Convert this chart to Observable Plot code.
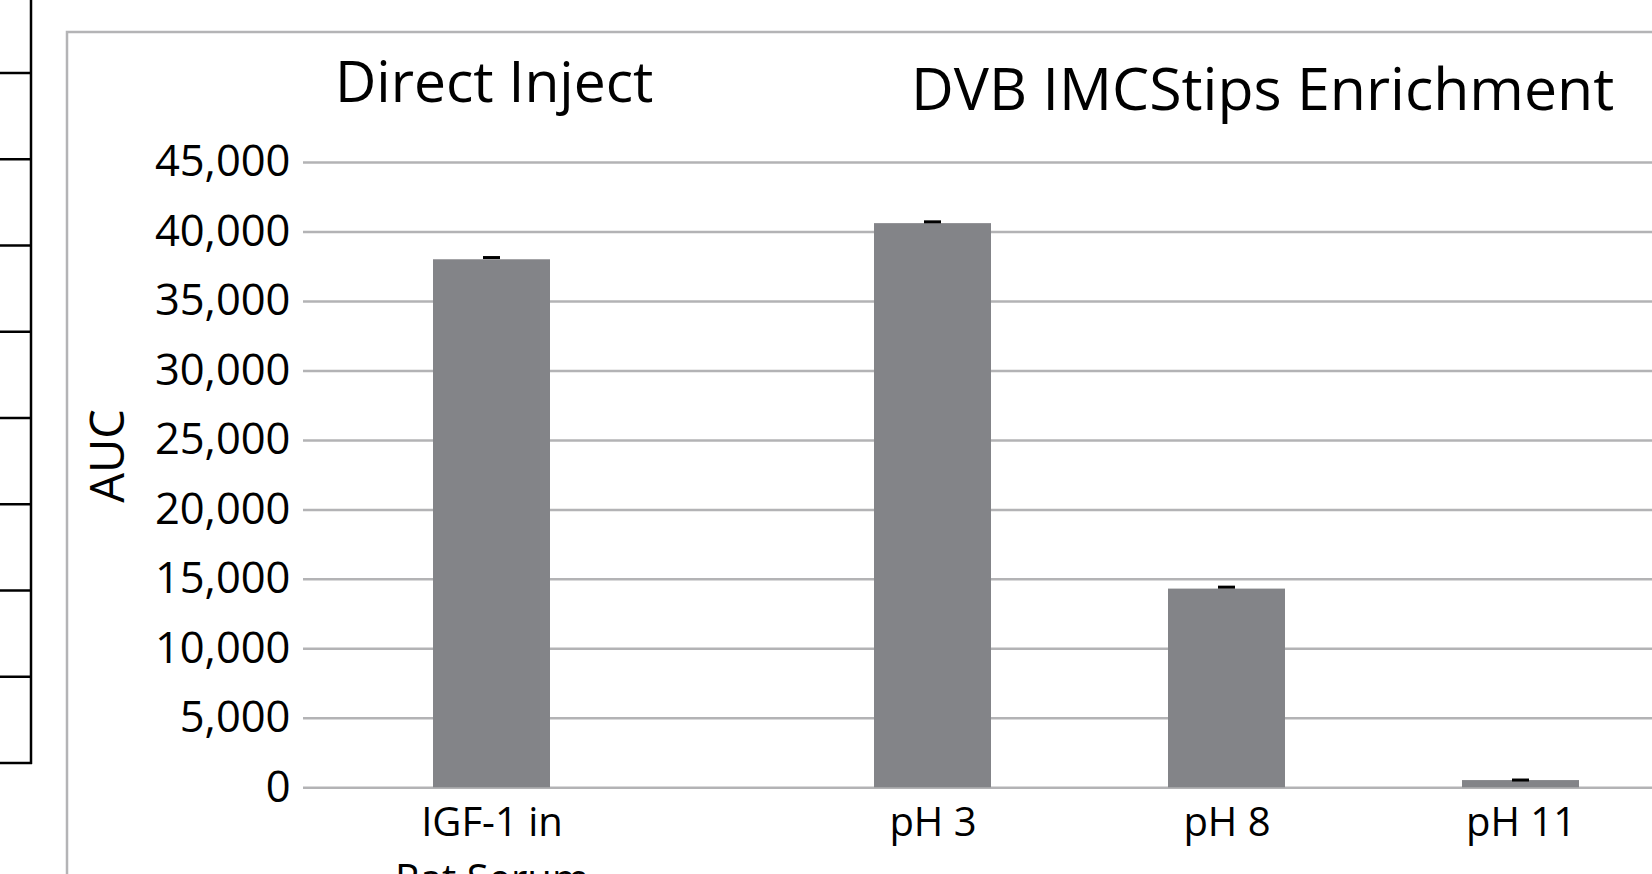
<!DOCTYPE html>
<html>
<head>
<meta charset="utf-8">
<script src="https://cdn.jsdelivr.net/npm/d3@7"></script>
<script src="https://cdn.jsdelivr.net/npm/@observablehq/plot@0.6"></script>
<style>
  html, body { margin: 0; padding: 0; background: #fff; }
  #chart { width: 1652px; height: 874px; overflow: hidden; }
</style>
</head>
<body>
<div id="chart"></div>
<script>
// ---- data ----
const categories = ["IGF-1 in\nRat Serum", "pH 3", "pH 8", "pH 11"];
const values = [38000, 40600, 14300, 520];
const errors = [160, 130, 140, 40];
const groupTitles = ["Direct Inject", "DVB IMCStips Enrichment"];
const yTicks = [0, 5000, 10000, 15000, 20000, 25000, 30000, 35000, 40000, 45000];
const yLabel = "AUC";
// slot order of the category axis (empty slots are the gaps between groups)
const slots = ["IGF-1 in\nRat Serum", "gap a", "gap b", "pH 3", "gap c", "pH 8", "gap d", "pH 11"];

const data = categories.map((c, i) => ({category: c, value: values[i], err: errors[i]}));

const W = 1652, H = 874;
const font = "'Open Sans', 'DejaVu Sans', sans-serif";

const plot = Plot.plot({
  width: W,
  height: H,
  marginLeft: 303,
  marginRight: 0,
  marginTop: 162,
  marginBottom: 86.7,
  style: {fontFamily: font, color: "#000", background: "transparent", overflow: "visible"},
  x: {type: "band", domain: slots, range: [416.8, 1595.7], paddingInner: 0.206, paddingOuter: 0.103},
  y: {domain: [0, 45000]},
  marks: [
    Plot.gridY(yTicks, {stroke: "#b3b3b5", strokeOpacity: 1, strokeWidth: 2.5}),
    Plot.barY(data, {x: "category", y: "value", fill: "#838488"}),
    Plot.tickY(data, {x: "category", y: d => d.value + d.err, stroke: "#000", strokeWidth: 3, insetLeft: 50, insetRight: 50}),
    Plot.axisY(yTicks, {tickSize: 0, tickPadding: 13, fontSize: 43.5, tickFormat: d3.format(","), label: null}),
    Plot.axisX(categories, {tickSize: 0, tickPadding: 8, fontSize: 40, lineHeight: 1.415, label: null})
  ]
});

document.getElementById("chart").appendChild(plot);

// ---- decorations and titles ----
const svg = d3.select(plot);
const deco = svg.insert("g", ":first-child");
// outer chart-area border (cropped at right/bottom)
deco.append("rect").attr("x", 67).attr("y", 32).attr("width", 3000).attr("height", 3000)
  .attr("fill", "none").attr("stroke", "#b4b4b6").attr("stroke-width", 2.5);
// neighbouring element at the left edge
deco.append("line").attr("x1", 31).attr("x2", 31).attr("y1", 0).attr("y2", 764)
  .attr("stroke", "#000").attr("stroke-width", 2.5);
d3.range(9).forEach(k => {
  const yy = 73 + k * 86.25;
  deco.append("line").attr("x1", 0).attr("x2", 32).attr("y1", yy).attr("y2", yy)
    .attr("stroke", "#000").attr("stroke-width", 2.5);
});

const t = svg.append("g").attr("font-family", font).attr("fill", "#000").attr("text-anchor", "start");
t.append("text").attr("x", 335).attr("y", 102).attr("font-size", 57).text(groupTitles[0]);
t.append("text").attr("x", 911).attr("y", 110).attr("font-size", 59).text(groupTitles[1]);
t.append("text").attr("transform", "translate(124,456) rotate(-90)").attr("text-anchor", "middle")
  .attr("font-size", 47).text(yLabel);
</script>
</body>
</html>
